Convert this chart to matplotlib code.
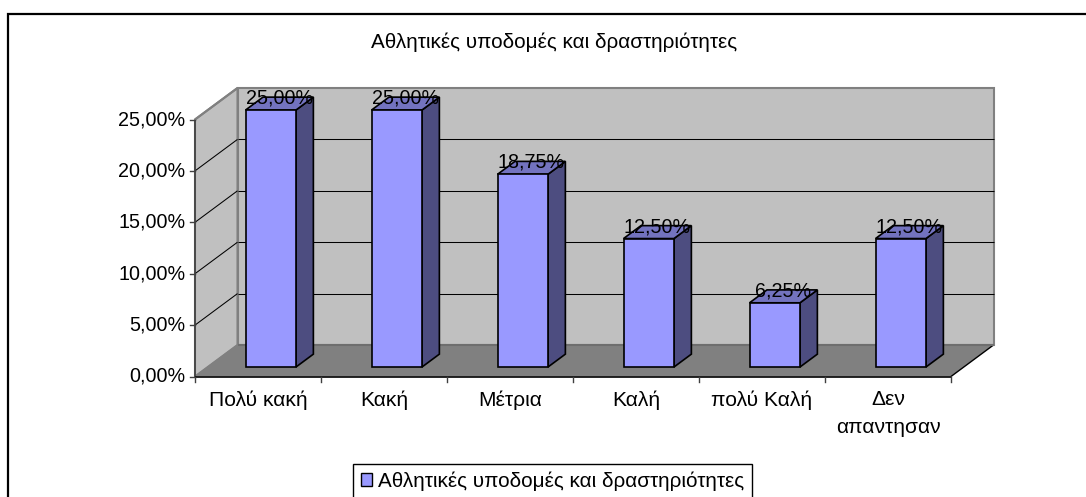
import matplotlib
matplotlib.use("Agg")
import matplotlib.pyplot as plt
from matplotlib.patches import Polygon, Patch

plt.rcParams['font.family'] = ['Liberation Sans', 'DejaVu Sans']

title = "Αθλητικές υποδομές και δραστηριότητες"
categories = ["Πολύ κακή", "Κακή", "Μέτρια", "Καλή", "πολύ Καλή", "Δεν\nαπαντησαν"]
values = [25.00, 25.00, 18.75, 12.50, 6.25, 12.50]
labels = ["25,00%", "25,00%", "18,75%", "12,50%", "6,25%", "12,50%"]
yticks = [0, 5, 10, 15, 20, 25]
ytick_labels = ["0,00%", "5,00%", "10,00%", "15,00%", "20,00%", "25,00%"]

W, H = 1086, 497
x0_px, y0_px = 195.0, 376.5
cat_px, unit_px = 126.0, 257.0 / 25
dx_px, dy_px = 42.5, 31.5

FRONT, TOP, SIDE = "#9999FF", "#7373BF", "#4D4D80"
WALL, FLOOR, EDGE = "#C0C0C0", "#808080", "#808080"
FS = 14.2
FS_CAT = 15.1
FS_TITLE = 14.9

fig = plt.figure(figsize=(W / 100, H / 100), dpi=100)
ax = fig.add_axes([0, 0, 1, 1])
ax.set_xlim(-x0_px / cat_px, (W - x0_px) / cat_px)
ax.set_ylim(-(H - y0_px) / unit_px, y0_px / unit_px)
ax.axis("off")


def proj(x, y, d):
    """Oblique projection: category, value, depth (0 front .. 1 back)."""
    return x + d * dx_px / cat_px, y + d * dy_px / unit_px


def poly(points, fc, ec, lw, z):
    ax.add_patch(Polygon([proj(*p) for p in points], closed=True, fc=fc, ec=ec,
                         lw=lw, zorder=z, joinstyle="miter"))


def line(p, q, color, lw, z):
    a, b = proj(*p), proj(*q)
    ax.plot([a[0], b[0]], [a[1], b[1]], color=color, lw=lw, zorder=z,
            solid_capstyle="butt")


n = len(categories)
top = yticks[-1]

# walls and floor
poly([(0, 0, 1), (n, 0, 1), (n, top, 1), (0, top, 1)], WALL, EDGE, 1.5, 1)
poly([(0, 0, 0), (0, 0, 1), (0, top, 1), (0, top, 0)], WALL, EDGE, 1.5, 1)
poly([(0, 0, 0), (n, 0, 0), (n, 0, 1), (0, 0, 1)], FLOOR, "none", 0, 2)
line((0, 0, 0), (0, 0, 1), EDGE, 1.0, 3)
line((n, 0, 0), (n, 0, 1), "black", 1.0, 3)
line((0, 0, 1), (n, 0, 1), "#6e6e6e", 1.5, 3)

# gridlines
for t in yticks[1:-1]:
    line((0, t, 0), (0, t, 1), "black", 0.75, 3)
    line((0, t, 1), (n, t, 1), "black", 0.75, 3)
line((0, top, 0), (0, top, 1), EDGE, 1.5, 3)

# axes and ticks
line((0, 0, 0), (0, top, 0), "#404040", 1.2, 4)
line((0, 0, 0), (n, 0, 0), "black", 1.2, 4)
for t, s in zip(yticks, ytick_labels):
    ax.plot([-5.5 / cat_px, 0], [t, t], color="#404040", lw=1.0, zorder=4)
    ax.text(-9.5 / cat_px, t, s, ha="right", va="center", fontsize=FS, color="black")
for i in range(n + 1):
    ax.plot([i, i], [0, -5 / unit_px], color="#404040", lw=1.0, zorder=4)
for i, c in enumerate(categories):
    ax.text(i + 0.5, -13.5 / unit_px, c, ha="center", va="top", fontsize=FS_CAT,
            color="black", linespacing=1.6)

# bars
GAP, WIDTH = 0.30, 0.40
DF, DB = 0.30, 0.71
for i, v in enumerate(values):
    l, r = i + GAP, i + GAP + WIDTH
    z = 5 + i
    poly([(r, 0, DF), (r, 0, DB), (r, v, DB), (r, v, DF)], SIDE, "black", 1.2, z)
    poly([(l, v, DF), (r, v, DF), (r, v, DB), (l, v, DB)], TOP, "black", 1.2, z)
    poly([(l, 0, DF), (r, 0, DF), (r, v, DF), (l, v, DF)], FRONT, "black", 1.2, z)
for i, (v, s) in enumerate(zip(values, labels)):
    px, py = proj(i + 0.5, v, 0.5)
    ax.text(px, py, s, ha="center", va="baseline", fontsize=FS, color="black", zorder=20)

# title, frame, legend
ax.text(554.5 / W, 1 - 42 / H, title, transform=ax.transAxes, ha="center", va="center",
        fontsize=FS_TITLE, color="black")
ax.plot([8 / W, 8 / W, 1], [0, 1 - 14 / H, 1 - 14 / H], transform=ax.transAxes,
        color="black", lw=1.6, clip_on=False, zorder=30, solid_joinstyle="miter")

handle = Patch(fc=FRONT, ec="black", lw=1.0, label=title)
leg = ax.legend(handles=[handle], loc="upper left",
                bbox_to_anchor=(353 / W, 1 - 463.5 / H), bbox_transform=ax.transAxes,
                fontsize=FS_TITLE, frameon=True, fancybox=False, framealpha=1, edgecolor="black",
                borderpad=0.38, borderaxespad=0, handlelength=0.55, handleheight=0.55,
                handletextpad=0.3)
leg.get_frame().set_linewidth(1.0)
leg.set_zorder(30)

fig.savefig("out.png", dpi=100)
